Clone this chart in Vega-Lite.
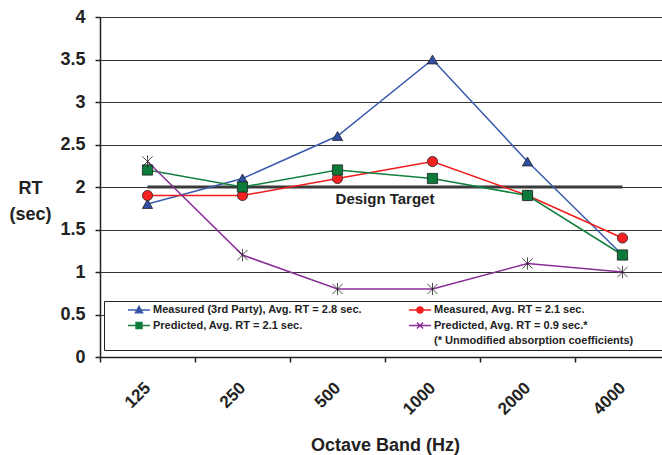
{
  "$schema": "https://vega.github.io/schema/vega-lite/v6.json",
  "width": 562,
  "height": 340,
  "autosize": "none",
  "padding": {"left": 100, "top": 17, "right": 0, "bottom": 98},
  "background": "white",
  "config": {"view": {"stroke": null}, "font": "Liberation Sans"},
  "data": {
    "values": [
      {"band": "125", "series": "Measured (3rd Party), Avg. RT = 2.8 sec.", "rt": 1.8},
      {"band": "250", "series": "Measured (3rd Party), Avg. RT = 2.8 sec.", "rt": 2.1},
      {"band": "500", "series": "Measured (3rd Party), Avg. RT = 2.8 sec.", "rt": 2.6},
      {"band": "1000", "series": "Measured (3rd Party), Avg. RT = 2.8 sec.", "rt": 3.5},
      {"band": "2000", "series": "Measured (3rd Party), Avg. RT = 2.8 sec.", "rt": 2.3},
      {"band": "4000", "series": "Measured (3rd Party), Avg. RT = 2.8 sec.", "rt": 1.2},
      {"band": "125", "series": "Measured, Avg. RT = 2.1 sec.", "rt": 1.9},
      {"band": "250", "series": "Measured, Avg. RT = 2.1 sec.", "rt": 1.9},
      {"band": "500", "series": "Measured, Avg. RT = 2.1 sec.", "rt": 2.1},
      {"band": "1000", "series": "Measured, Avg. RT = 2.1 sec.", "rt": 2.3},
      {"band": "2000", "series": "Measured, Avg. RT = 2.1 sec.", "rt": 1.9},
      {"band": "4000", "series": "Measured, Avg. RT = 2.1 sec.", "rt": 1.4},
      {"band": "125", "series": "Predicted, Avg. RT = 2.1 sec.", "rt": 2.2},
      {"band": "250", "series": "Predicted, Avg. RT = 2.1 sec.", "rt": 2.0},
      {"band": "500", "series": "Predicted, Avg. RT = 2.1 sec.", "rt": 2.2},
      {"band": "1000", "series": "Predicted, Avg. RT = 2.1 sec.", "rt": 2.1},
      {"band": "2000", "series": "Predicted, Avg. RT = 2.1 sec.", "rt": 1.9},
      {"band": "4000", "series": "Predicted, Avg. RT = 2.1 sec.", "rt": 1.2},
      {"band": "125", "series": "Predicted, Avg. RT = 0.9 sec.*", "rt": 2.3},
      {"band": "250", "series": "Predicted, Avg. RT = 0.9 sec.*", "rt": 1.2},
      {"band": "500", "series": "Predicted, Avg. RT = 0.9 sec.*", "rt": 0.8},
      {"band": "1000", "series": "Predicted, Avg. RT = 0.9 sec.*", "rt": 0.8},
      {"band": "2000", "series": "Predicted, Avg. RT = 0.9 sec.*", "rt": 1.1},
      {"band": "4000", "series": "Predicted, Avg. RT = 0.9 sec.*", "rt": 1.0}
    ]
  },
  "layer": [
    {
      "data": {"values": [{"band": "125", "rt": 2}, {"band": "4000", "rt": 2}]},
      "mark": {"type": "line", "color": "#3a3a3a", "strokeWidth": 3},
      "encoding": {
        "x": {
          "field": "band", "type": "ordinal", "bandPosition": 0.5, "sort": null,
          "scale": {"type": "band", "domain": ["125", "250", "500", "1000", "2000", "4000"], "paddingInner": 0, "paddingOuter": 0, "range": [0, 570]},
          "axis": {
            "title": "Octave Band (Hz)", "titleFontSize": 18, "titleFontWeight": "bold", "titleColor": "#222", "titleY": 93, "titleBaseline": "alphabetic",
            "labelAngle": -45, "labelAlign": "right", "labelBaseline": "middle", "labelFontSize": 17, "labelFontWeight": "bold", "labelColor": "#222", "labelPadding": 23, "labelOverlap": false,
            "tickBand": "extent", "tickSize": 5, "tickColor": "#222", "tickWidth": 1.5, "domainColor": "#222", "domainWidth": 1.5, "grid": false
          }
        },
        "y": {
          "field": "rt", "type": "quantitative",
          "scale": {"domain": [0, 4], "nice": false, "zero": true},
          "axis": {
            "title": ["RT", "(sec)"], "titleAngle": 0, "titleX": -70, "titleY": 171, "titleAlign": "center", "titleBaseline": "middle",
            "titleFontSize": 18, "titleFontWeight": "bold", "titleColor": "#222", "titleLineHeight": 26,
            "values": [0, 0.5, 1, 1.5, 2, 2.5, 3, 3.5, 4], "format": "~g",
            "labelFontSize": 18, "labelFontWeight": "bold", "labelColor": "#222", "labelPadding": 10,
            "tickSize": 5, "tickColor": "#222", "tickWidth": 1.5, "domainColor": "#222", "domainWidth": 1.5,
            "grid": true, "gridColor": "#333", "gridWidth": 1
          }
        }
      }
    },
    {
      "mark": {"type": "line", "strokeWidth": 1.5},
      "encoding": {
        "x": {"field": "band", "type": "ordinal", "bandPosition": 0.5, "sort": null},
        "y": {"field": "rt", "type": "quantitative"},
        "stroke": {
          "field": "series", "type": "nominal", "legend": null,
          "scale": {
            "domain": ["Measured (3rd Party), Avg. RT = 2.8 sec.", "Measured, Avg. RT = 2.1 sec.", "Predicted, Avg. RT = 2.1 sec.", "Predicted, Avg. RT = 0.9 sec.*"],
            "range": ["#3a5cae", "#f21c1c", "#13803f", "#8a2e98"]
          }
        }
      }
    },
    {
      "mark": {"type": "point", "filled": true, "size": 105, "stroke": "#222", "strokeWidth": 0.8, "opacity": 1},
      "encoding": {
        "x": {"field": "band", "type": "ordinal", "bandPosition": 0.5, "sort": null},
        "y": {"field": "rt", "type": "quantitative"},
        "shape": {
          "field": "series", "type": "nominal", "legend": null,
          "scale": {
            "domain": ["Measured (3rd Party), Avg. RT = 2.8 sec.", "Measured, Avg. RT = 2.1 sec.", "Predicted, Avg. RT = 2.1 sec.", "Predicted, Avg. RT = 0.9 sec.*"],
            "range": ["triangle-up", "circle", "square", "M-1,-1L1,1M-1,1L1,-1M0,-1.2L0,1.2"]
          }
        },
        "fill": {
          "field": "series", "type": "nominal", "legend": null,
          "scale": {
            "domain": ["Measured (3rd Party), Avg. RT = 2.8 sec.", "Measured, Avg. RT = 2.1 sec.", "Predicted, Avg. RT = 2.1 sec.", "Predicted, Avg. RT = 0.9 sec.*"],
            "range": ["#2f4fa3", "#f52020", "#0b7a3a", "transparent"]
          }
        }
      }
    },
    {
      "data": {"values": [{"band": "1000", "rt": 1.8, "label": "Design Target"}]},
      "mark": {"type": "text", "font": "Liberation Sans", "fontSize": 15, "fontWeight": "bold", "align": "center", "baseline": "alphabetic", "color": "#222"},
      "encoding": {
        "x": {"field": "band", "type": "ordinal", "bandPosition": 0, "sort": null},
        "y": {"field": "rt", "type": "quantitative"},
        "text": {"field": "label"}
      }
    },
    {
      "transform": [{"filter": "datum.rt < 0"}],
      "mark": {"type": "point", "filled": true},
      "encoding": {
        "shape": {
          "field": "series", "type": "nominal",
          "scale": {
            "domain": ["Measured (3rd Party), Avg. RT = 2.8 sec.", "Predicted, Avg. RT = 2.1 sec.", " ", "Measured, Avg. RT = 2.1 sec.", "Predicted, Avg. RT = 0.9 sec.*", "(* Unmodified absorption coefficients)"],
            "range": ["M-1,0H1M0,-0.34L0.32,0.24L-0.32,0.24Z", "M-1,0H1M-0.27,-0.27H0.27V0.27H-0.27Z", "M0,0", "M-1,0H1M-0.28,0A0.28,0.28,0,1,0,0.28,0A0.28,0.28,0,1,0,-0.28,0Z", "M-1,0H1M-0.28,-0.28L0.28,0.28M-0.28,0.28L0.28,-0.28", "M0,0"]
          },
          "legend": {
            "orient": "none", "legendX": 4, "legendY": 284, "columns": 2, "title": null,
            "padding": 3, "strokeColor": "#222", "fillColor": "white", "clipHeight": 12,
            "symbolSize": 484, "symbolStrokeWidth": 1.5, "symbolOffset": 20, "labelOffset": 2, "symbolOpacity": 1,
            "labelFont": "Liberation Sans", "labelFontSize": 11, "labelFontWeight": "bold", "labelColor": "#222", "labelLimit": 400,
            "rowPadding": 3.5, "columnPadding": 26,
            "labelExpr": "datum.label == '(* Unmodified absorption coefficients)' ? datum.label + ' \u2800\u2800\u2800\u2800\u2800\u2800\u2800\u2800' : datum.label"
          }
        },
        "fill": {
          "field": "series", "type": "nominal",
          "scale": {
            "domain": ["Measured (3rd Party), Avg. RT = 2.8 sec.", "Predicted, Avg. RT = 2.1 sec.", " ", "Measured, Avg. RT = 2.1 sec.", "Predicted, Avg. RT = 0.9 sec.*", "(* Unmodified absorption coefficients)"],
            "range": ["#2f4fa3", "#0b7a3a", "transparent", "#f52020", "transparent", "transparent"]
          },
          "legend": {
            "orient": "none", "legendX": 4, "legendY": 284, "columns": 2, "title": null,
            "padding": 3, "strokeColor": "#222", "fillColor": "white", "clipHeight": 12,
            "symbolSize": 484, "symbolStrokeWidth": 1.5, "symbolOffset": 20, "labelOffset": 2, "symbolOpacity": 1,
            "labelFont": "Liberation Sans", "labelFontSize": 11, "labelFontWeight": "bold", "labelColor": "#222", "labelLimit": 400,
            "rowPadding": 3.5, "columnPadding": 26,
            "labelExpr": "datum.label == '(* Unmodified absorption coefficients)' ? datum.label + ' \u2800\u2800\u2800\u2800\u2800\u2800\u2800\u2800' : datum.label"
          }
        },
        "stroke": {
          "field": "series", "type": "nominal",
          "scale": {
            "domain": ["Measured (3rd Party), Avg. RT = 2.8 sec.", "Predicted, Avg. RT = 2.1 sec.", " ", "Measured, Avg. RT = 2.1 sec.", "Predicted, Avg. RT = 0.9 sec.*", "(* Unmodified absorption coefficients)"],
            "range": ["#3a5cae", "#13803f", "transparent", "#f21c1c", "#8a2e98", "transparent"]
          },
          "legend": {
            "orient": "none", "legendX": 4, "legendY": 284, "columns": 2, "title": null,
            "padding": 3, "strokeColor": "#222", "fillColor": "white", "clipHeight": 12,
            "symbolSize": 484, "symbolStrokeWidth": 1.5, "symbolOffset": 20, "labelOffset": 2, "symbolOpacity": 1,
            "labelFont": "Liberation Sans", "labelFontSize": 11, "labelFontWeight": "bold", "labelColor": "#222", "labelLimit": 400,
            "rowPadding": 3.5, "columnPadding": 26,
            "labelExpr": "datum.label == '(* Unmodified absorption coefficients)' ? datum.label + ' \u2800\u2800\u2800\u2800\u2800\u2800\u2800\u2800' : datum.label"
          }
        }
      }
    }
  ],
  "resolve": {"scale": {"shape": "independent", "fill": "independent", "stroke": "independent"}}
}
